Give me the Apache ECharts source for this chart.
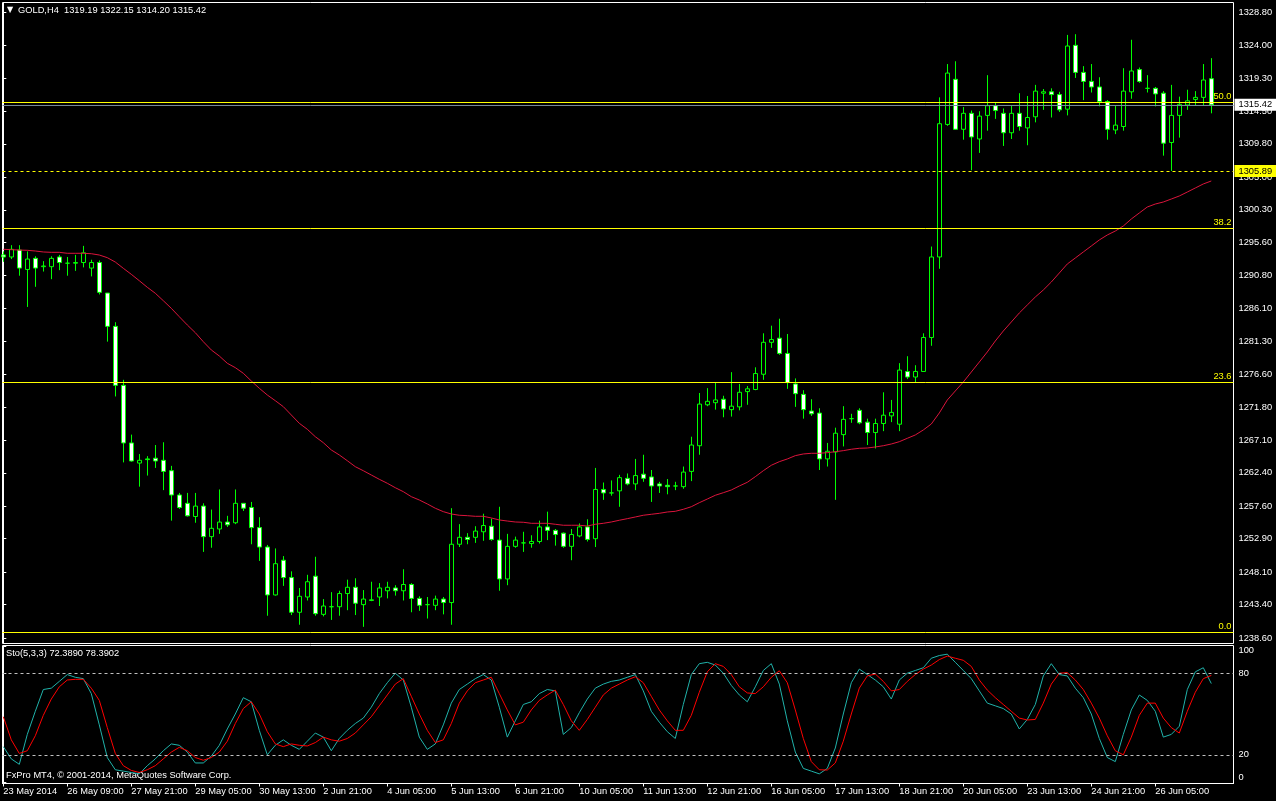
<!DOCTYPE html>
<html><head><meta charset="utf-8">
<script src="https://cdn.jsdelivr.net/npm/echarts@6/dist/echarts.min.js"></script>
<style>html,body{margin:0;padding:0;background:#000;}#c{width:1276px;height:801px;}</style>
</head><body><div id="c"></div>
<script>
const opens=[1293.8,1293.5,1294.5,1291.7,1293.3,1292.1,1292.1,1293.5,1292.6,1292.6,1292.7,1291.9,1292.7,1288.3,1283.5,1275.0,1266.7,1263.8,1264.4,1264.5,
1264.2,1262.7,1259.2,1258.0,1256.1,1257.6,1253.2,1254.3,1255.3,1255.2,1258.0,1257.4,1254.5,1251.7,1244.8,1249.8,1247.3,1242.3,1244.5,1247.5,
1242.0,1243.1,1243.1,1245.0,1245.9,1243.4,1244.0,1244.5,1245.4,1245.8,1245.4,1246.3,1244.3,1243.4,1243.3,1244.2,1243.7,1252.1,1253.1,1253.1,
1253.9,1254.7,1252.7,1247.1,1251.8,1252.3,1252.2,1252.5,1254.6,1254.1,1253.7,1251.8,1253.3,1254.6,1252.9,1260.0,1259.5,1259.8,1261.6,1260.8,
1262.2,1261.8,1260.8,1260.6,1260.5,1260.4,1262.6,1266.3,1272.2,1272.5,1273.0,1271.5,1271.9,1274.1,1274.4,1276.6,1281.2,1281.8,1279.6,1275.2,
1273.7,1271.3,1271.0,1264.4,1265.4,1267.9,1270.2,1271.4,1269.7,1268.2,1269.5,1270.6,1269.4,1277.0,1276.2,1277.0,1281.9,1293.5,1312.6,1319.1,
1311.9,1314.2,1310.5,1313.9,1315.3,1314.2,1311.4,1314.2,1312.1,1313.7,1317.1,1317.3,1316.9,1314.8,1324.0,1320.1,1318.8,1318.0,1315.9,1311.8,
1312.3,1317.3,1320.5,1317.8,1317.8,1317.1,1310.0,1313.9,1315.4,1316.2,1316.5,1319.19];
const closes=[1293.5,1294.6,1291.9,1293.2,1291.9,1292.2,1293.3,1292.7,1292.6,1292.7,1294.1,1292.7,1288.4,1283.5,1275.0,1266.7,1264.1,1264.2,1264.3,1264.1,
1262.6,1259.2,1257.4,1256.2,1257.6,1253.2,1254.4,1255.3,1254.9,1258.0,1257.3,1254.5,1251.7,1244.8,1249.3,1247.3,1242.3,1244.6,1246.7,1242.1,
1243.2,1243.1,1245.0,1245.9,1243.6,1244.2,1244.1,1245.8,1245.9,1245.4,1246.3,1244.3,1243.3,1243.4,1244.2,1243.7,1252.1,1253.1,1252.8,1254.0,
1254.8,1252.8,1247.1,1251.8,1252.7,1252.3,1252.5,1254.6,1254.1,1253.5,1251.8,1253.5,1254.6,1252.8,1260.0,1259.5,1259.5,1261.7,1260.8,1262.0,
1261.6,1260.5,1260.5,1260.4,1260.5,1262.5,1266.4,1272.3,1272.7,1272.9,1271.6,1272.0,1274.0,1274.5,1276.7,1281.2,1281.6,1279.6,1275.4,1273.8,
1271.5,1270.9,1264.4,1265.5,1268.1,1270.1,1270.2,1269.6,1268.2,1269.5,1270.7,1271.1,1277.2,1276.2,1277.0,1281.9,1293.5,1312.7,1320.0,1311.9,
1314.2,1310.8,1313.8,1315.3,1314.6,1311.4,1314.2,1312.3,1313.6,1317.4,1317.3,1316.9,1314.7,1323.9,1320.1,1318.8,1318.0,1315.9,1311.9,1312.5,
1317.4,1320.3,1318.8,1317.8,1317.0,1309.9,1313.9,1315.5,1316.0,1316.5,1319.0,1315.42];
const highs=[1294.3,1295.2,1295.2,1294.3,1293.6,1292.9,1293.6,1293.8,1293.5,1293.8,1295.1,1293.1,1293.0,1288.3,1284.1,1275.8,1267.9,1265.1,1264.8,1266.4,
1266.8,1263.4,1259.5,1259.5,1259.5,1258.0,1257.1,1260.0,1256.2,1260.0,1258.0,1258.2,1256.0,1252.0,1251.5,1250.4,1248.2,1245.8,1247.7,1250.3,
1244.2,1245.2,1245.4,1247.0,1247.2,1245.5,1246.7,1246.5,1246.7,1246.2,1248.5,1246.5,1244.6,1244.5,1244.7,1244.5,1257.3,1255.0,1253.7,1254.7,
1256.5,1255.8,1257.5,1253.6,1253.2,1253.9,1253.4,1255.5,1256.8,1254.3,1253.8,1254.3,1255.1,1255.7,1263.1,1261.0,1261.3,1262.1,1262.3,1264.4,
1265.0,1262.8,1261.1,1261.5,1261.1,1263.3,1267.6,1273.9,1274.6,1275.4,1273.5,1276.9,1275.2,1274.9,1277.6,1282.5,1283.6,1284.6,1282.4,1276.0,
1274.3,1273.0,1271.7,1266.7,1268.9,1272.0,1270.9,1271.7,1270.2,1270.2,1274.0,1272.9,1278.2,1279.2,1277.9,1282.5,1295.0,1316.5,1321.3,1321.7,
1315.1,1314.6,1314.5,1319.7,1315.7,1314.9,1315.3,1317.1,1316.7,1318.3,1317.7,1317.8,1317.3,1325.5,1325.6,1321.0,1321.3,1319.4,1316.1,1315.3,
1320.7,1324.8,1320.8,1319.7,1318.0,1317.4,1318.3,1316.6,1317.6,1317.4,1321.3,1322.15];
const lows=[1292.8,1293.2,1290.8,1286.3,1289.2,1291.4,1290.3,1291.6,1290.8,1291.5,1292.0,1290.7,1288.1,1281.3,1273.4,1263.9,1264.0,1260.4,1262.0,1263.1,
1259.9,1255.5,1257.2,1256.1,1255.2,1251.0,1251.6,1253.6,1254.6,1255.0,1256.9,1252.1,1249.7,1241.8,1244.7,1246.1,1241.9,1240.5,1244.0,1241.8,
1241.7,1241.2,1241.8,1242.6,1241.9,1240.2,1243.9,1243.2,1244.3,1244.7,1244.0,1242.3,1242.5,1241.4,1242.6,1242.0,1240.5,1251.7,1252.1,1252.3,
1252.6,1252.6,1245.4,1246.2,1251.6,1251.0,1251.6,1252.2,1252.7,1251.9,1251.6,1249.8,1253.1,1252.5,1251.7,1258.5,1259.1,1257.5,1260.6,1259.9,
1261.1,1258.2,1259.5,1259.3,1259.9,1260.1,1261.2,1265.0,1272.0,1271.5,1270.4,1270.5,1271.4,1272.2,1274.3,1275.8,1280.4,1279.4,1274.5,1271.9,
1270.2,1270.6,1262.8,1263.3,1258.5,1266.2,1269.6,1269.4,1266.4,1265.9,1268.4,1269.7,1268.4,1275.9,1275.4,1277.0,1280.7,1291.8,1312.4,1311.8,
1310.4,1306.0,1308.5,1311.7,1313.4,1309.5,1310.5,1311.7,1309.6,1312.9,1314.7,1313.6,1314.4,1313.9,1319.3,1316.1,1317.2,1315.2,1310.4,1311.2,
1311.7,1316.3,1318.6,1317.2,1315.2,1308.1,1305.89,1310.7,1314.7,1315.3,1315.4,1314.20];
const maValues=[1294.61,1294.55,1294.50,1294.46,1294.36,1294.22,1294.17,1294.17,1294.03,1294.03,1294.03,1293.97,1293.78,1293.40,1292.77,1291.87,1291.00,1290.08,1289.13,1288.27,
1287.20,1286.10,1284.89,1283.70,1282.59,1281.29,1280.10,1279.23,1278.18,1277.55,1276.74,1275.63,1274.58,1273.61,1272.79,1271.93,1270.73,1269.53,1268.67,1267.60,
1266.74,1265.69,1264.97,1264.14,1263.28,1262.70,1262.08,1261.46,1260.89,1260.25,1259.68,1258.96,1258.48,1257.91,1257.29,1256.80,1256.46,1256.28,1256.22,1256.13,
1256.13,1255.89,1255.60,1255.45,1255.31,1255.27,1255.12,1255.12,1255.12,1254.98,1254.84,1254.84,1254.84,1254.73,1254.98,1255.12,1255.31,1255.56,1255.79,1256.03,
1256.28,1256.42,1256.56,1256.75,1256.85,1257.14,1257.51,1258.09,1258.62,1259.16,1259.53,1259.92,1260.50,1261.03,1261.84,1262.70,1263.48,1264.00,1264.39,1264.87,
1265.11,1265.21,1265.21,1265.30,1265.44,1265.59,1265.79,1265.93,1265.97,1266.12,1266.30,1266.55,1266.88,1267.37,1267.85,1268.57,1269.43,1271.02,1272.89,1274.19,
1275.48,1276.92,1278.36,1279.81,1281.39,1282.83,1284.13,1285.43,1286.58,1287.73,1288.74,1289.89,1291.19,1292.49,1293.35,1294.22,1295.08,1295.95,1296.67,1297.24,
1297.96,1298.97,1299.84,1300.70,1301.13,1301.42,1301.85,1302.29,1302.86,1303.44,1304.02,1304.45];
const stochMain=[26,17,13,35,52,68,69,74,79,77,76,65,42,18,9,8,7,6,12,17,
23,28,27,22,14,14,19,27,39,50,62,59,38,20,27,31,27,24,30,36,
33,23,32,38,43,47,55,65,73,80,75,55,33,24,28,42,58,68,72,76,
79,75,55,33,45,57,59,65,68,67,35,40,51,61,69,72,74,75,77,79,
67,52,44,37,32,57,79,87,88,86,80,71,64,59,70,82,87,72,45,22,
10,8,6,10,25,50,73,83,79,75,70,61,75,80,82,84,91,93,94,88,
82,76,67,58,56,54,50,39,46,57,78,87,79,78,69,62,50,32,18,15,
35,53,64,60,52,33,35,41,68,81,84,72.389];
const stochSignal=[48,31,21,23,34,49,61,70,75,75.5,75.5,69,60,40,21,12,8.5,7,9,12,
17,22,25.5,23,18,16,18,22,30,43,54,59,50,37,28,26,28,27,26.5,29,
33,31,30,32,36,42,48,56,64,72,76,63,50,38,29,31,43,58,67,73,
75,77,65,53,42,44,53,60,64,67.6,57,45,38,46,55,64,69,72,75,77.4,
73,63,53,45,38,38,49,66,81,87,85,79,70,65.5,65,70,77,81.8,73,53,
32,15,9,8.8,14,30,50,69,78,79.4,74,67,68,74,79,83,86,90,92.6,91,
89.5,85,75,67.6,62,57,52,47,45.6,46,58,72,80,80.4,75,68,58,47,34,23,
20,33,49,58,58,47,40,36,52,66,76,78.39];
const timeLabels=['23 May 2014','26 May 09:00','27 May 21:00','29 May 05:00','30 May 13:00','2 Jun 21:00','4 Jun 05:00','5 Jun 13:00','6 Jun 21:00','10 Jun 05:00',
'11 Jun 13:00','12 Jun 21:00','16 Jun 05:00','17 Jun 13:00','18 Jun 21:00','20 Jun 05:00','23 Jun 13:00','24 Jun 21:00','26 Jun 05:00'];
const timeTickBars=[0,8,16,24,32,40,48,56,64,72,80,88,96,104,112,120,128,136,144];
const priceTicks=[1238.6,1243.4,1248.1,1252.9,1257.6,1262.4,1267.1,1271.8,1276.6,1281.3,1286.1,1290.8,1295.6,1300.3,1305.0,1309.8,1314.5,1319.3,1324.0,1328.8];
const stochTicks=[0,20,80,100];
const fibLevels=[{name:'0.0',value:1239.46},{name:'23.6',value:1275.44},{name:'38.2',value:1297.63},{name:'50.0',value:1315.79}];
const bidPrice=1315.42, markedLow=1305.89;

const FONT='"Liberation Sans", Arial, sans-serif';
const FS=9.3;
const chart=echarts.init(document.getElementById('c'),null,{renderer:'canvas'});
const candleData=opens.map((o,i)=>[i,o,closes[i],lows[i],highs[i]]);
const maData=maValues.map((v,i)=>[i,v]);
const kData=stochMain.map((v,i)=>[i,v]);
const dData=stochSignal.map((v,i)=>[i,v]);
const xMin=-0.1, xMax=153.775;
const axisWhite={color:'#ffffff',width:1};
chart.setOption({
  backgroundColor:'#000000',
  animation:false,
  grid:[
    {left:2.5,top:2.5,width:1231,height:641,show:true,borderColor:'#ffffff',borderWidth:1,backgroundColor:'transparent',outerBoundsMode:'none',containLabel:false},
    {left:2.5,top:645.5,width:1231,height:138,show:true,borderColor:'#ffffff',borderWidth:1,backgroundColor:'transparent',outerBoundsMode:'none',containLabel:false}
  ],
  xAxis:[
    {type:'value',gridIndex:0,min:xMin,max:xMax,show:false,splitLine:{show:false}},
    {type:'value',gridIndex:1,min:xMin,max:xMax,
     axisLine:{show:true,onZero:false,lineStyle:axisWhite},
     axisTick:{show:true,length:3,customValues:timeTickBars,lineStyle:axisWhite},
     axisLabel:{show:true,customValues:timeTickBars,color:'#ffffff',fontSize:FS,fontFamily:FONT,align:'left',margin:3,
       formatter:function(v){const k=timeTickBars.indexOf(Math.round(v));return k>=0?timeLabels[k]:'';}},
     splitLine:{show:false}}
  ],
  yAxis:[
    {type:'value',gridIndex:0,position:'right',min:1237.80,max:1330.17,
     axisLine:{show:true,lineStyle:axisWhite},
     axisTick:{show:true,length:3,customValues:priceTicks,lineStyle:axisWhite},
     axisLabel:{show:true,customValues:priceTicks,color:'#ffffff',fontSize:FS,fontFamily:FONT,margin:5,
       formatter:function(v){return v.toFixed(2);}},
     splitLine:{show:false}},
    {type:'value',gridIndex:1,position:'right',min:-1.1,max:100.37,
     axisLine:{show:true,lineStyle:axisWhite},
     axisTick:{show:true,length:3,customValues:stochTicks,lineStyle:axisWhite},
     axisLabel:{show:true,customValues:stochTicks,color:'#ffffff',fontSize:FS,fontFamily:FONT,margin:5,
       verticalAlignMaxLabel:'top',verticalAlignMinLabel:'bottom',
       formatter:function(v){return String(Math.round(v));}},
     splitLine:{show:false}}
  ],
  series:[
    {type:'candlestick',xAxisIndex:0,yAxisIndex:0,data:candleData,encode:{x:0,y:[1,2,3,4]},
     barWidth:4,clip:true,
     itemStyle:{color:'#000000',color0:'#ffffff',borderColor:'#00ff00',borderColor0:'#00ff00',borderWidth:1},
     markLine:{silent:true,symbol:['none','none'],animation:false,
       data:[
         ...fibLevels.map(f=>({yAxis:f.value,lineStyle:{color:'#ffff00',width:1,type:'solid'},
           label:{show:true,position:'insideEndTop',distance:[2,1],formatter:f.name,color:'#ffff00',fontSize:FS,fontFamily:FONT}})),
         {yAxis:markedLow,lineStyle:{color:'#ffff00',width:1,type:[3,3]},
           label:{show:true,position:'end',distance:1,formatter:markedLow.toFixed(2),color:'#000000',backgroundColor:'#ffff00',padding:[2,6,1,4],fontSize:FS,fontFamily:FONT}},
         {yAxis:bidPrice,lineStyle:{color:'#778899',width:1,type:'solid'},
           label:{show:true,position:'end',distance:1,formatter:bidPrice.toFixed(2),color:'#000000',backgroundColor:'#ffffff',padding:[2,6,1,4],fontSize:FS,fontFamily:FONT}}
       ]}
    },
    {type:'line',xAxisIndex:0,yAxisIndex:0,data:maData,showSymbol:false,symbol:'none',clip:true,
     lineStyle:{color:'#dc143c',width:1},z:3},
    {type:'line',xAxisIndex:1,yAxisIndex:1,data:kData,showSymbol:false,symbol:'none',clip:true,
     lineStyle:{color:'#20b2aa',width:1},
     markLine:{silent:true,symbol:['none','none'],animation:false,label:{show:false},
       lineStyle:{color:'#c0c0c0',width:1,type:[3,3]},
       data:[{yAxis:20},{yAxis:80}]}},
    {type:'line',xAxisIndex:1,yAxisIndex:1,data:dData,showSymbol:false,symbol:'none',clip:true,
     lineStyle:{color:'#ff0000',width:1}}
  ],
  graphic:[
    {type:'text',left:7,top:6,style:{text:'▼',fill:'#ffffff',font:'8px "DejaVu Sans"'}},
    {type:'text',left:18,top:6,style:{text:'GOLD,H4  1319.19 1322.15 1314.20 1315.42',fill:'#ffffff',font:FS+'px '+FONT}},
    {type:'text',left:6,top:649,style:{text:'Sto(5,3,3) 72.3890 78.3902',fill:'#ffffff',font:FS+'px '+FONT}},
    {type:'text',left:6,top:771,style:{text:'FxPro MT4, © 2001-2014, MetaQuotes Software Corp.',fill:'#ffffff',font:FS+'px '+FONT}}
  ]
});
</script></body></html>
